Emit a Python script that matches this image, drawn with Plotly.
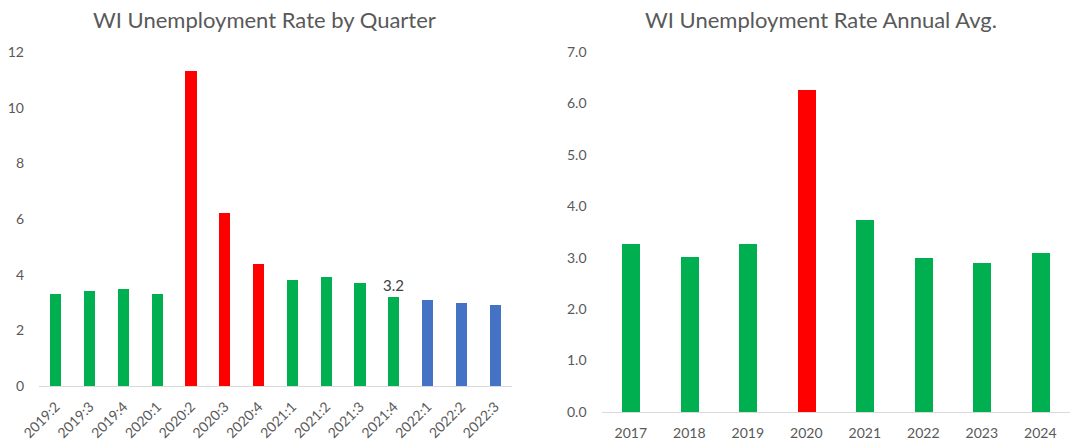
import plotly.graph_objects as go

# Quarterly data
quarters = ['2019:2', '2019:3', '2019:4', '2020:1', '2020:2', '2020:3', '2020:4',
            '2021:1', '2021:2', '2021:3', '2021:4', '2022:1', '2022:2', '2022:3']
quarter_rates = [3.3, 3.4, 3.5, 3.3, 11.3, 6.2, 4.4, 3.8, 3.9, 3.7, 3.2, 3.1, 3.0, 2.9]
quarter_groups = ['normal', 'normal', 'normal', 'normal', 'covid', 'covid', 'covid',
                  'normal', 'normal', 'normal', 'normal', 'forecast', 'forecast', 'forecast']
quarter_labels = ['', '', '', '', '', '', '', '', '', '', '3.2', '', '', '']

# Annual data
years = ['2017', '2018', '2019', '2020', '2021', '2022', '2023', '2024']
annual_rates = [3.26, 3.01, 3.27, 6.26, 3.73, 2.99, 2.89, 3.09]
annual_groups = ['normal', 'normal', 'normal', 'covid', 'normal', 'normal', 'normal', 'normal']

colors = {'normal': '#00B050', 'covid': '#FF0000', 'forecast': '#4472C4'}
text_gray = '#595959'
font_family = 'Lato, Open Sans, sans-serif'

W, H = 1082, 443

fig = go.Figure()

fig.add_trace(go.Bar(
    x=quarters, y=quarter_rates,
    marker=dict(color=[colors[g] for g in quarter_groups], line=dict(width=0)),
    width=0.33,
    text=quarter_labels, textposition='outside', cliponaxis=False,
    constraintext='none',
    textfont=dict(size=15, color='#404040', family=font_family),
    xaxis='x', yaxis='y', showlegend=False
))

fig.add_trace(go.Bar(
    x=years, y=annual_rates,
    marker=dict(color=[colors[g] for g in annual_groups], line=dict(width=0)),
    width=0.31,
    xaxis='x2', yaxis='y2', showlegend=False
))

tick_font = dict(size=14, color=text_gray, family=font_family)

fig.update_layout(
    width=W, height=H,
    margin=dict(l=0, r=0, t=0, b=0),
    paper_bgcolor='white', plot_bgcolor='white',
    bargap=0,
    font=dict(family=font_family, color=text_gray),
    xaxis=dict(
        domain=[39 / W, 512 / W], anchor='y',
        range=[-0.5, 13.5], automargin=False,
        showline=True, linecolor='#D9D9D9', linewidth=1,
        showgrid=False, zeroline=False,
        tickangle=-45, tickfont=tick_font, ticks='',
        ticklabelstandoff=6,
    ),
    yaxis=dict(
        domain=[57 / H, (H - 52) / H], anchor='x',
        range=[0, 12], dtick=2, automargin=False,
        showline=False, showgrid=False, zeroline=False,
        tickfont=tick_font, ticklabelstandoff=14,
    ),
    xaxis2=dict(
        domain=[601.5 / W, 1069.5 / W], anchor='y2',
        range=[-0.5, 7.5], automargin=False,
        showline=True, linecolor='#D9D9D9', linewidth=1,
        showgrid=False, zeroline=False,
        tickangle=0, tickfont=tick_font, ticks='',
        ticklabelstandoff=8,
    ),
    yaxis2=dict(
        domain=[31 / H, (H - 52) / H], anchor='x2',
        range=[0, 7], dtick=1, tickformat='.1f', automargin=False,
        showline=False, showgrid=False, zeroline=False,
        tickfont=tick_font, ticklabelstandoff=14,
    ),
    annotations=[
        dict(text='WI Unemployment Rate by Quarter', x=264 / W, y=(H - 20) / H,
             xref='paper', yref='paper', showarrow=False,
             xanchor='center', yanchor='middle',
             font=dict(size=22, color=text_gray, family=font_family)),
        dict(text='WI Unemployment Rate Annual Avg.', x=821 / W, y=(H - 20) / H,
             xref='paper', yref='paper', showarrow=False,
             xanchor='center', yanchor='middle',
             font=dict(size=22, color=text_gray, family=font_family)),
    ],
)

# drop the default page margin so the chart sits at the window corner
fig.write_html('out.html',
               config={'displayModeBar': False},
               post_script="document.body.style.margin='0';"
                           "document.body.style.overflow='hidden';")
